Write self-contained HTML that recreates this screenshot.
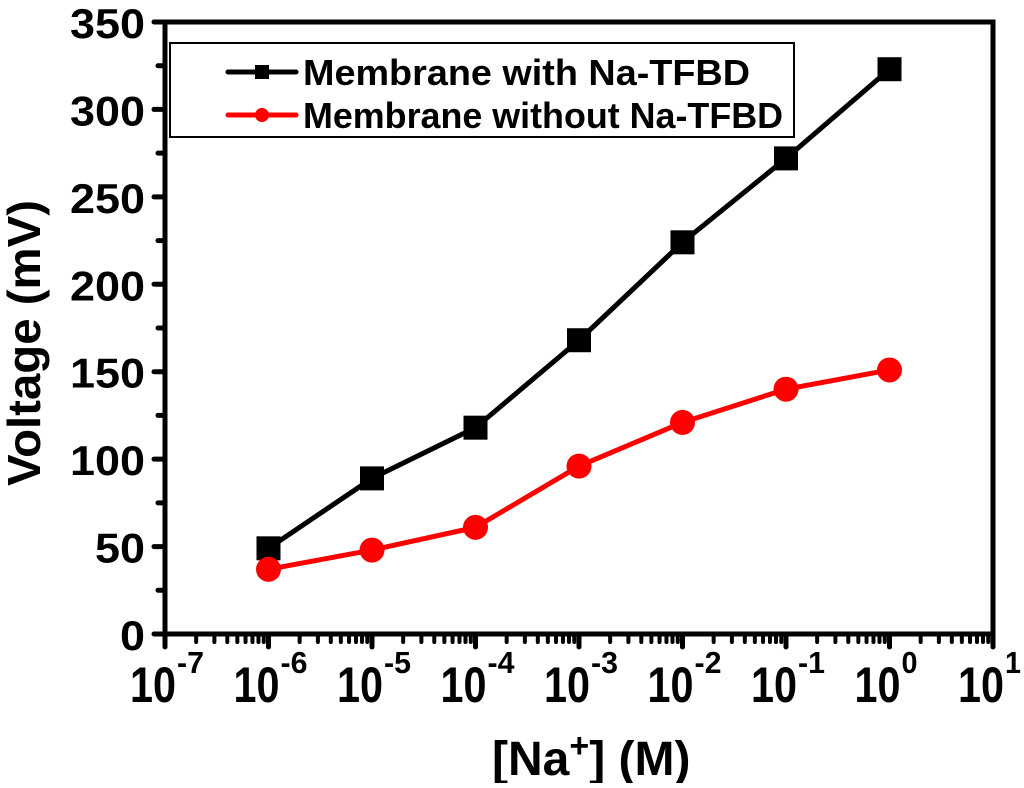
<!DOCTYPE html>
<html><head><meta charset="utf-8"><style>
body{margin:0;background:#fff}
text{font-family:"Liberation Sans",Arial,sans-serif;font-weight:bold}
</style></head><body>
<svg width="1024" height="783" viewBox="0 0 1024 783">
<g id="g"></g>
</svg>
<script>
const xExps=[-6,-5,-4,-3,-2,-1,0];
const withTFBD=[49,89,118,168,224,272,323];
const withoutTFBD=[37,48,61,96,121,140,151];
const yTicks=[0,50,100,150,200,250,300,350];
const xTickExps=[-7,-6,-5,-4,-3,-2,-1,0,1];
const L=165,R=993,T=22,B=634;
const sx=e=>L+(e+7)*(R-L)/8;
const sy=v=>B-v*(B-T)/350;
const NS='http://www.w3.org/2000/svg';
const g=document.getElementById('g');
function mk(t,a,p){const e=document.createElementNS(NS,t);for(const k in a)e.setAttribute(k,a[k]);(p||g).appendChild(e);return e;}
const fr=mk('rect',{x:L,y:T,width:R-L,height:B-T,fill:'none',stroke:'#000','stroke-width':5});


yTicks.forEach((v,i)=>{
 const y=sy(v);
 const t=mk('line',{x1:L-11,x2:L,y1:y,y2:y,stroke:'#000','stroke-width':5,'stroke-linecap':'round'});
 
 
 if(i<yTicks.length-1){const m=mk('line',{x1:L-7,x2:L,y1:sy(v+25),y2:sy(v+25),stroke:'#000','stroke-width':5,'stroke-linecap':'round'});
 
 }
 const s=String(v);
 const tx=mk('text',{x:145,y:y+16,'text-anchor':'end','font-size':42,textLength:25*s.length,lengthAdjust:'spacingAndGlyphs'});
 tx.textContent=s;
 
 
});
xTickExps.forEach((e,i)=>{
 const x=sx(e);
 const t=mk('line',{x1:x,x2:x,y1:B,y2:B+13,stroke:'#000','stroke-width':5,'stroke-linecap':'round'});
 
 
 if(i<xTickExps.length-1){for(let k=2;k<10;k++){const xm=x+Math.log10(k)*(R-L)/8;
  const m=mk('line',{x1:xm,x2:xm,y1:B,y2:B+8,stroke:'#000','stroke-width':4,'stroke-linecap':'round'});
  
  }}
 const tx=mk('text',{x:x-35,y:702,'font-size':50,textLength:46,lengthAdjust:'spacingAndGlyphs'});
 tx.textContent='10';
 
 
 const ex=(e<0?'-':'')+Math.abs(e);
 const sp=mk('text',{x:x+12,y:673,'font-size':31,textLength:ex.length>1?27:16,lengthAdjust:'spacingAndGlyphs'});
 sp.textContent=ex;
 
 
});
const yt=mk('text',{x:0,y:0,'text-anchor':'middle','font-size':46,textLength:286,lengthAdjust:'spacingAndGlyphs',transform:`translate(40,343) rotate(-90)`});
yt.textContent='Voltage (mV)';


const xt=mk('text',{x:492,y:775,'font-size':48});
xt.innerHTML='[Na<tspan font-size="34" dy="-18">+</tspan><tspan dy="18">] (M)</tspan>';


function series(vals,color,shape,name){
 const pts=vals.map((v,i)=>sx(xExps[i])+','+sy(v)).join(' ');
 const pl=mk('polyline',{points:pts,fill:'none',stroke:color,'stroke-width':5});
 
 
 vals.forEach((v,i)=>{
  const x=sx(xExps[i]),y=sy(v);let m;
  if(shape==='sq')m=mk('rect',{x:x-12,y:y-12,width:24,height:24,fill:color});
  else m=mk('circle',{cx:x,cy:y,r:12.5,fill:color});
  
  
 });
}
series(withTFBD,'#000','sq','with-tfbd');
series(withoutTFBD,'#f00','ci','without-tfbd');
const lg=mk('g',{});


mk('rect',{x:170,y:43,width:624,height:94,fill:'#fff',stroke:'#000','stroke-width':2},lg);
const ent=[['#000','sq','Membrane with Na-TFBD',72,447],['#f00','ci','Membrane without Na-TFBD',115,480]];
ent.forEach(([c,s,lab,y,w])=>{
 const e=mk('g',{},lg);
 
 
 mk('line',{x1:228,x2:296,y1:y,y2:y,stroke:c,'stroke-width':5,'stroke-linecap':'round'},e);
 if(s==='sq')mk('rect',{x:255,y:y-7,width:14,height:14,fill:c},e);
 else mk('circle',{cx:262,cy:y,r:7,fill:c},e);
 const t=mk('text',{x:303,y:y+13,'font-size':36,textLength:w,lengthAdjust:'spacingAndGlyphs'},e);t.textContent=lab;
});
</script>
</body></html>
